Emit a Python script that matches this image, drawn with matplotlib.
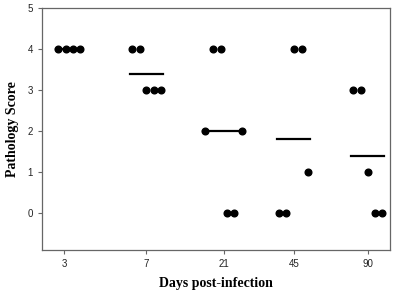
import numpy as np
import matplotlib
matplotlib.use("Agg")
import matplotlib.pyplot as plt

# grupos (dias post-infeccion)
dias = ["3", "7", "21", "45", "90"]
posicion_grupo = [64, 146, 224, 294, 368]

# puntajes de patologia por grupo
puntajes = [
    [4, 4, 4, 4],
    [4, 4, 3, 3, 3],
    [4, 4, 2, 2, 0, 0],
    [4, 4, 1, 0, 0],
    [3, 3, 1, 0, 0],
]
# desplazamiento horizontal de cada punto respecto al centro del grupo
desplazamiento = [
    [-6, 2, 9, 16],
    [-14, -6, 0, 8, 15],
    [-11, -3, -19, 18, 3, 10],
    [0, 8, 14, -15, -8],
    [-15, -7, 0, 7, 14],
]

fig = plt.figure(figsize=(4.0, 2.96), dpi=100)
ax = fig.add_axes([0.105, 0.155, 0.87, 0.818])

for centro, ys, dx in zip(posicion_grupo, puntajes, desplazamiento):
    xs = np.array(dx) + centro
    ax.plot(xs, ys, "o", color="black", markersize=4.8, zorder=3)
    media = np.mean(ys)
    ax.plot([xs.min() - 2, xs.max() + 2], [media, media], color="black", lw=1.6, zorder=2)

ax.set_xlim(42, 390)
ax.set_ylim(-0.9, 5)
ax.set_xticks(posicion_grupo)
ax.set_xticklabels(dias)
ax.set_yticks(range(6))

for s in ax.spines.values():
    s.set_color("#666666")
    s.set_linewidth(0.9)
ax.tick_params(axis="both", direction="out", length=3, width=0.8, color="#666666",
               labelsize=7, labelcolor="#222222")
for lbl in ax.get_xticklabels() + ax.get_yticklabels():
    lbl.set_family("Liberation Sans")

ax.set_xlabel("Days post-infection", family="Liberation Serif", fontweight="bold",
              fontsize=10, labelpad=6)
ax.set_ylabel("Pathology Score", family="Liberation Serif", fontweight="bold",
              fontsize=10)
ax.yaxis.set_label_coords(-0.066, 0.5)

fig.savefig("out.png", dpi=100)
